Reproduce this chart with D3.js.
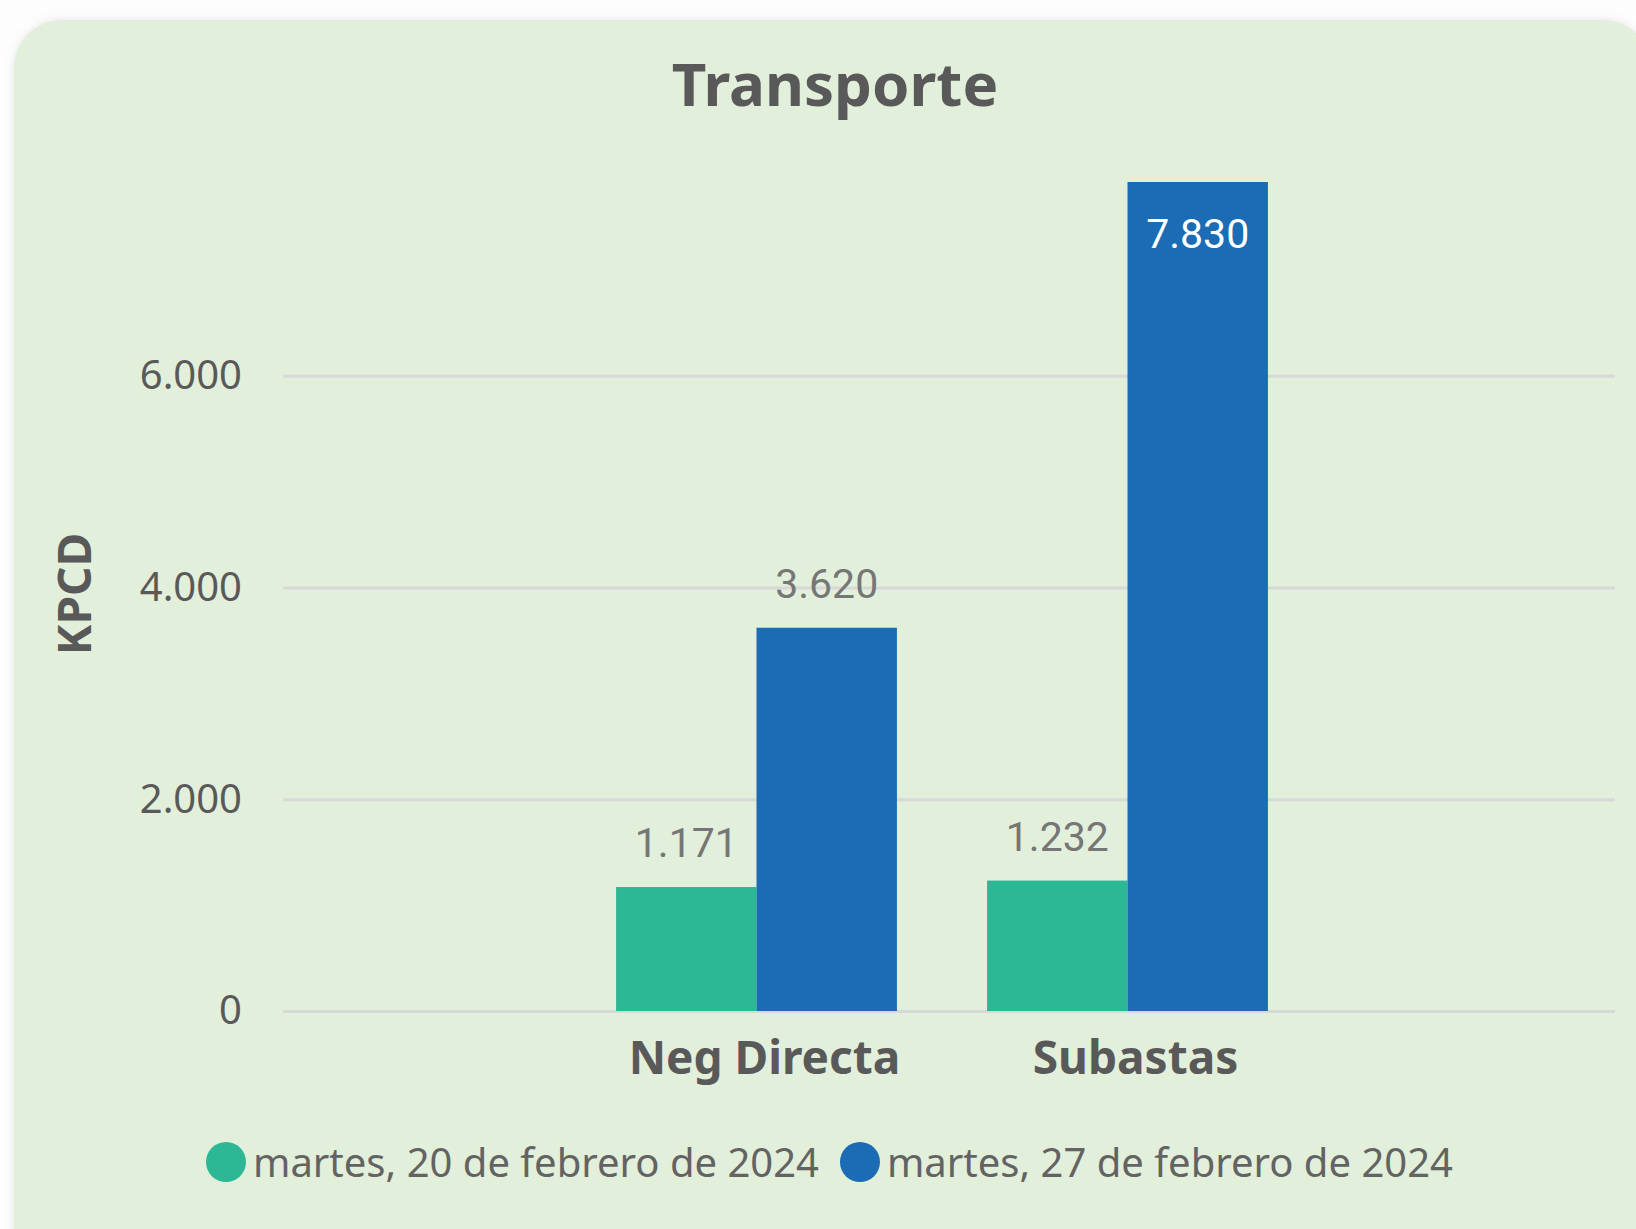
<!DOCTYPE html>
<html>
<head>
<meta charset="utf-8">
<script src="https://cdn.jsdelivr.net/npm/d3@7"></script>
<style>
  body { margin: 0; background: #fdfdfd; }
  svg { display: block; }
</style>
</head>
<body>
<svg width="1636" height="1229"></svg>
<script>
// chart values
const categories = ["Neg Directa", "Subastas"];
const seriesNames = ["martes, 20 de febrero de 2024", "martes, 27 de febrero de 2024"];
const seriesColors = ["#2cb894", "#1b6cb4"];
const feb20Values = [1171, 1232];
const feb27Values = [3620, 7830];
const yTicks = [0, 2000, 4000, 6000];

const seriesValues = [feb20Values, feb27Values];
const rows = categories.map((c, i) => ({
  category: c,
  values: seriesNames.map((s, j) => ({ key: s, value: seriesValues[j][i], color: seriesColors[j] })),
}));

const textColor = "#595959";
const font = "'Segoe UI', 'Noto Sans', sans-serif";
const labelFont = "Roboto, sans-serif";

const svg = d3.select("svg");

// panel
const defs = svg.append("defs");
const shadow = defs.append("filter").attr("id", "shadow").attr("x", "-5%").attr("y", "-5%").attr("width", "110%").attr("height", "110%");
shadow.append("feDropShadow").attr("dx", 0).attr("dy", 0).attr("stdDeviation", 4)
  .attr("flood-color", "#9a9a9a").attr("flood-opacity", 0.25);

svg.append("rect")
  .attr("x", 14).attr("y", 20)
  .attr("width", 1637).attr("height", 1280)
  .attr("rx", 48)
  .attr("fill", "#e2efda")
  .attr("filter", "url(#shadow)");

// scales
const plotLeft = 283, plotRight = 1615;
const y = d3.scaleLinear().domain([0, 8000]).range([1011, 164]);
const x = d3.scaleBand().domain(categories).range([571, 1313]).paddingInner(0.243).paddingOuter(0.1215);
const xSub = d3.scaleBand().domain(seriesNames).range([0, x.bandwidth()]);

const locale = d3.formatLocale({ decimal: ",", thousands: ".", grouping: [3], currency: ["", ""] });
const fmt = locale.format(",");

// title
svg.append("text")
  .attr("x", 835).attr("y", 106)
  .attr("text-anchor", "middle")
  .attr("font-family", font).attr("font-weight", "bold").attr("font-size", 60)
  .attr("fill", textColor)
  .text("Transporte");

// y axis + gridlines
const yAxis = svg.append("g")
  .attr("transform", `translate(${plotLeft},0)`)
  .call(d3.axisLeft(y).tickValues(yTicks).tickFormat(fmt)
    .tickSizeInner(-(plotRight - plotLeft)).tickSizeOuter(0).tickPadding(41));
yAxis.select(".domain").remove();
yAxis.selectAll(".tick line").attr("stroke", "#d8d8d8").attr("stroke-width", 3);
yAxis.selectAll(".tick text")
  .attr("font-family", font).attr("font-size", 40).attr("fill", textColor);

svg.append("text")
  .attr("transform", "translate(91,594) rotate(-90)")
  .attr("text-anchor", "middle")
  .attr("font-family", font).attr("font-weight", "bold").attr("font-size", 46)
  .attr("fill", textColor)
  .text("KPCD");

// bars
const groups = svg.selectAll("g.cat")
  .data(rows)
  .enter()
  .append("g")
  .attr("class", "cat")
  .attr("transform", (d) => `translate(${x(d.category)},0)`);

groups.selectAll("rect")
  .data((d) => d.values)
  .enter()
  .append("rect")
  .attr("x", (d) => xSub(d.key))
  .attr("y", (d) => y(d.value))
  .attr("width", xSub.bandwidth())
  .attr("height", (d) => y(0) - y(d.value))
  .attr("fill", (d) => d.color);

// data labels, pushed inside the bar when too close to the top
const inside = (d) => y(d.value) - 60 < y.range()[1];
groups.selectAll("text.val")
  .data((d) => d.values)
  .enter()
  .append("text")
  .attr("class", "val")
  .attr("x", (d) => xSub(d.key) + xSub.bandwidth() / 2)
  .attr("y", (d) => (inside(d) ? y(d.value) + 66 : y(d.value) - 30))
  .attr("text-anchor", "middle")
  .attr("font-family", labelFont).attr("font-size", 41)
  .attr("fill", (d) => (inside(d) ? "#ffffff" : "#767676"))
  .text((d) => fmt(d.value));

// category labels
svg.selectAll("text.cat")
  .data(categories)
  .enter()
  .append("text")
  .attr("class", "cat")
  .attr("x", (d) => x(d) + x.bandwidth() / 2 + 8)
  .attr("y", 1074)
  .attr("text-anchor", "middle")
  .attr("font-family", font).attr("font-weight", "bold").attr("font-size", 46)
  .attr("fill", textColor)
  .text((d) => d);

// legend
const legend = svg.append("g").attr("transform", "translate(206,1162)");
let lx = 0;
seriesNames.forEach((name, i) => {
  legend.append("circle")
    .attr("cx", lx + 20).attr("cy", 0).attr("r", 20)
    .attr("fill", seriesColors[i]);
  const t = legend.append("text")
    .attr("x", lx + 47).attr("y", 15)
    .attr("font-family", font).attr("font-size", 40)
    .attr("fill", "#636363")
    .text(name);
  lx += 47 + t.node().getComputedTextLength() + 21;
});
</script>
</body>
</html>
